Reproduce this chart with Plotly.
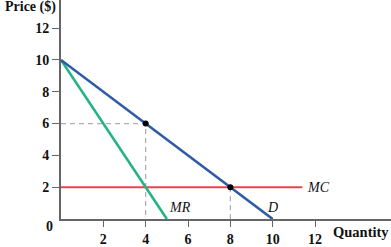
import plotly.graph_objects as go

# Data
demand_q = [0, 10]
demand_p = [10, 0]
mr_q = [0, 5]
mr_p = [10, 0]
mc_q = [0, 11.4]
mc_p = [2, 2]
monopoly_q, monopoly_p = 4, 6
comp_q, comp_p = 8, 2
x_ticks = [2, 4, 6, 8, 10, 12]
y_ticks = [2, 4, 6, 8, 10, 12]

AX = "#666666"
FONT = "Liberation Serif"

fig = go.Figure()

# Dashed guides
fig.add_trace(go.Scatter(x=[0, monopoly_q, monopoly_q], y=[monopoly_p, monopoly_p, 0],
                         mode="lines", line=dict(color="#b0b0b0", width=1.3, dash="5px,4px"),
                         hoverinfo="skip"))
fig.add_trace(go.Scatter(x=[comp_q, comp_q], y=[comp_p, 0],
                         mode="lines", line=dict(color="#b0b0b0", width=1.3, dash="5px,4px"),
                         hoverinfo="skip"))
# Curves
fig.add_trace(go.Scatter(x=mc_q, y=mc_p, mode="lines", line=dict(color="#e2474f", width=2)))
fig.add_trace(go.Scatter(x=mr_q, y=mr_p, mode="lines", line=dict(color="#24b383", width=2.6)))
fig.add_trace(go.Scatter(x=demand_q, y=demand_p, mode="lines", line=dict(color="#2f5aa6", width=2.6)))
# Points
fig.add_trace(go.Scatter(x=[monopoly_q, comp_q], y=[monopoly_p, comp_p], mode="markers",
                         marker=dict(color="black", size=6)))

fig.update_layout(
    width=391, height=247,
    margin=dict(l=61, r=0, t=0, b=28),
    plot_bgcolor="white", paper_bgcolor="white",
    showlegend=False,
    font=dict(family=FONT, size=13, color="#111"),
)
fig.update_xaxes(range=[0, 15.59], showgrid=False, zeroline=False,
                 showline=True, linecolor=AX, linewidth=2,
                 tickvals=x_ticks, ticks="outside", ticklen=6, tickwidth=1.3, tickcolor=AX,
                 tickfont=dict(family=FONT, size=14, weight="bold", color="#111"))
fig.update_yaxes(range=[0, 13.77], showgrid=False, zeroline=False,
                 showline=True, linecolor=AX, linewidth=2,
                 tickvals=y_ticks, ticks="outside", ticklen=7, tickwidth=1.3, tickcolor=AX,
                 tickfont=dict(family=FONT, size=14, weight="bold", color="#111"))

ann = [
    dict(x=0, y=0, xref="x", yref="y", text="<b>0</b>", showarrow=False,
         xanchor="right", yanchor="middle", xshift=-6, yshift=-7,
         font=dict(family=FONT, size=14, color="#111")),
    dict(x=0, y=13.3, xref="paper", yref="y", text="<b>Price ($)</b>", showarrow=False,
         xanchor="right", yanchor="middle", xshift=-3,
         font=dict(family=FONT, size=14, color="#111")),
    dict(x=12.75, y=-0.059, xref="x", yref="paper", text="<b>Quantity</b>", showarrow=False,
         xanchor="left", yanchor="middle",
         font=dict(family=FONT, size=14.5, color="#111")),
    dict(x=5.0, y=0.7, xref="x", yref="y", text="<i>MR</i>", showarrow=False,
         xanchor="left", yanchor="middle", xshift=0,
         font=dict(family=FONT, size=14, color="#111")),
    dict(x=10.0, y=0.7, xref="x", yref="y", text="<i>D</i>", showarrow=False,
         xanchor="center", yanchor="middle",
         font=dict(family=FONT, size=14, color="#111")),
    dict(x=11.4, y=2.0, xref="x", yref="y", text="<i>MC</i>", showarrow=False,
         xanchor="left", yanchor="middle", xshift=3,
         font=dict(family=FONT, size=14, color="#111")),
]
fig.update_layout(annotations=ann)

fig.write_html("out.html")
